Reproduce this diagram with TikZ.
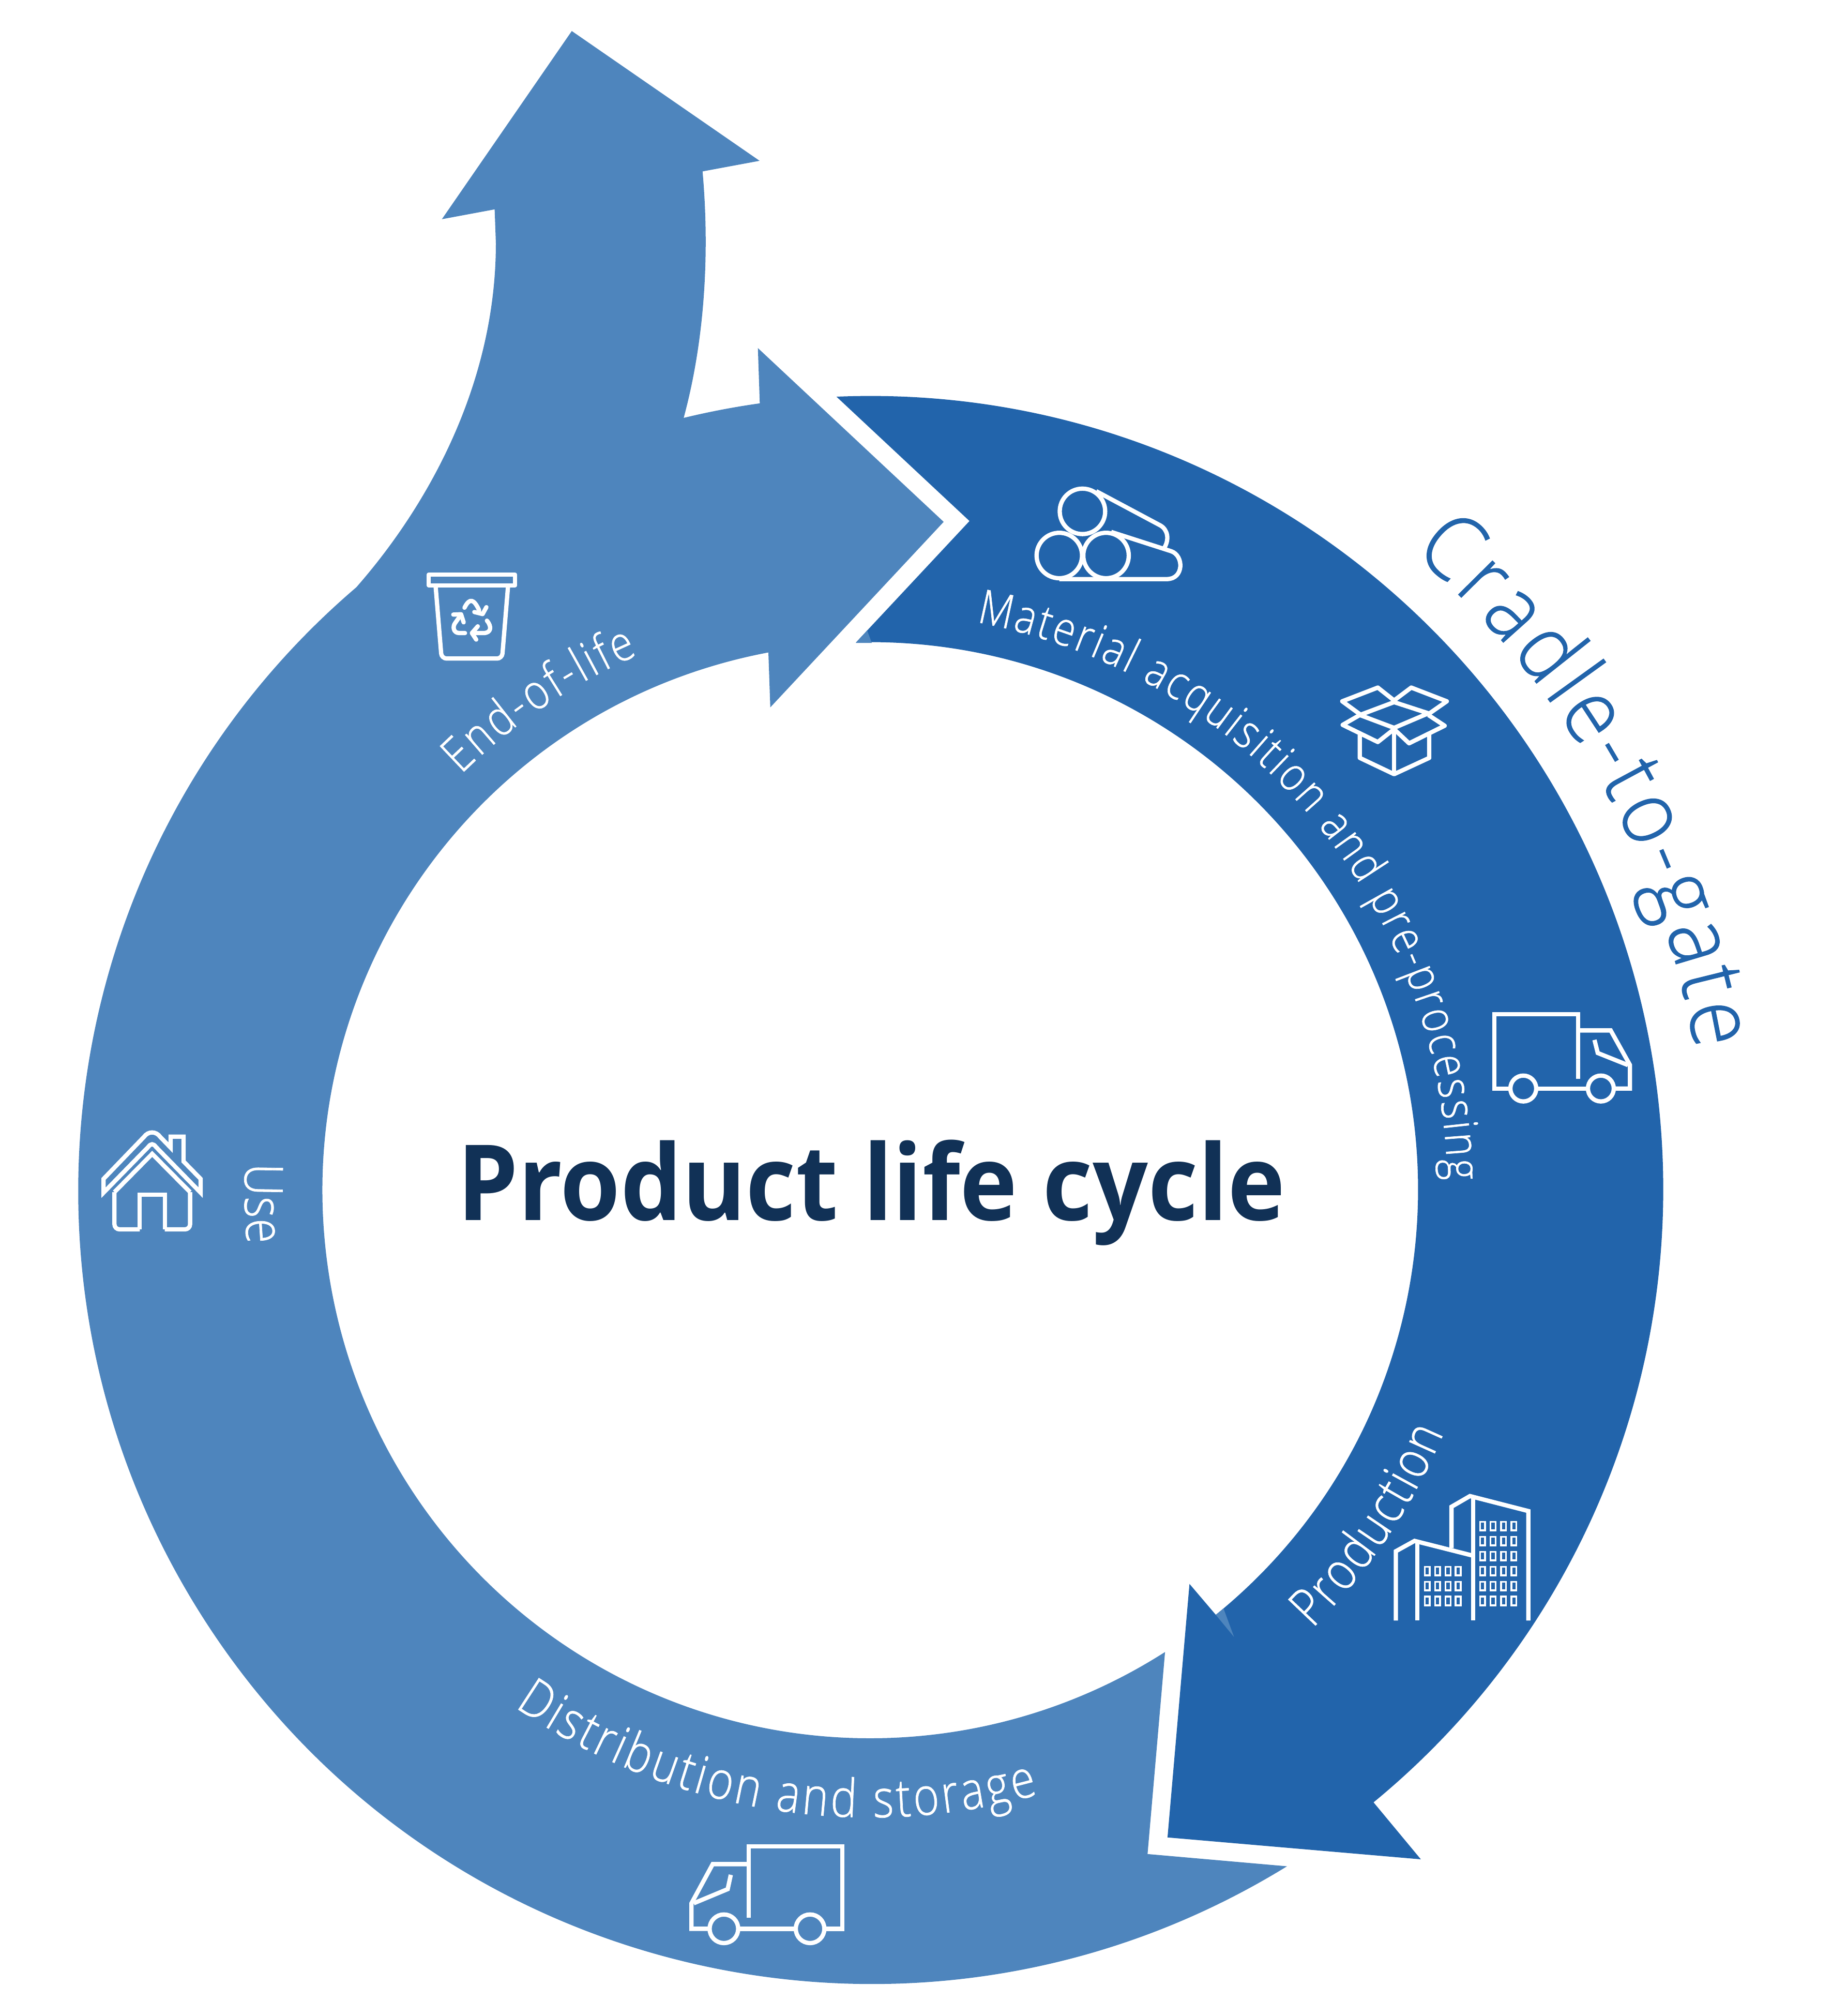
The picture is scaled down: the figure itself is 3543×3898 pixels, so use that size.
\documentclass[tikz,border=0pt]{standalone}
\usepackage{fontspec}
\usetikzlibrary{decorations.text}
\setmainfont{Noto Sans}
\newfontfamily\titlefont[FakeStretch=0.925]{Open Sans}
\newfontfamily\curvedfont[FakeStretch=0.84,FakeBold=0.7]{Open Sans Light}
\newfontfamily\cradlefont[FakeStretch=0.9,FakeBold=0.8]{Open Sans Light}
\definecolor{darkblue}{HTML}{2264AB}
\definecolor{lightblue}{HTML}{4E85BD}
\definecolor{navy}{HTML}{113156}
\tikzset{
  iconline/.style={draw=white,line width=2.36pt,line join=miter,fill=none},
  thinline/.style={draw=white,line width=1.05pt,fill=none},
  recycleline/.style={draw=white,line width=2.36pt,line cap=round,line join=round,fill=none},
}
\begin{document}
\begin{tikzpicture}[x=0.01cm,y=-0.01cm]
\useasboundingbox (0,0) rectangle (3543,3898);
\coordinate (C) at (1683,2300);

% light arrow
\fill[lightblue] (2489,3608.5) arc[start angle=58.4,end angle=229.5,radius=1534]
  .. controls (830,975) and (959,740) .. (959,470) -- (956.6,404.8)
  -- (854.6,423.8) -- (1105.8,60) -- (1469,310.9) -- (1358.7,331.4)
  .. controls (1372,480) and (1365,650) .. (1322.2,808)
  arc[start angle=-103.6,end angle=-98,radius=1534]
  -- (1465.7,673) -- (1825,1009) -- (1489.7,1367.7) -- (1486,1261.5)
  arc[start angle=-100.7,end angle=-302.6,radius=1059]
  -- (2219.3,3584.8) -- cycle;

% dark arrow
\fill[darkblue] (1617.7,767) arc[start angle=-92.43,end angle=50.6,radius=1534]
  -- (2747.8,3595) -- (2257.9,3552.7) -- (2300.4,3062.5) -- (2351.3,3122.3)
  arc[start angle=50.9,end angle=-91.5,radius=1059]
  -- (1875,1007.4) -- cycle;
\fill[lightblue] (1655,1243) -- (1677,1219) -- (1686,1243) -- cycle;
\fill[lightblue] (2351.3,3122.3) -- (2366.2,3110) -- (2386.5,3165) -- cycle;

% curved labels
\path[decorate,decoration={text along path,text align={fit to path},text={|\curvedfont\fontsize{26}{30}\selectfont\color{white}|Material acquisition and pre-processing}}]
  (C) ++(-79.4:1116) arc[start angle=-79.4,end angle=-1,radius=1116];
\path[decorate,decoration={text along path,text align={fit to path},text={|\curvedfont\fontsize{29}{32}\selectfont\color{white}|Production}}]
  (C) ++(44.8:1205) arc[start angle=44.8,end angle=23,radius=1205];
\path[decorate,decoration={text along path,text align={fit to path},text={|\curvedfont\fontsize{29}{32}\selectfont\color{white}|Distribution and storage}}]
  (C) ++(124.5:1214) arc[start angle=124.5,end angle=74.5,radius=1214];
\path[decorate,decoration={text along path,text align={fit to path},text={|\curvedfont\fontsize{29.3}{32}\selectfont\color{white}|Use}}]
  (C) ++(182.4:1210) arc[start angle=182.4,end angle=175,radius=1210];
\path[decorate,decoration={text along path,text align={fit to path},text={|\curvedfont\fontsize{27}{30}\selectfont\color{white}|End-of-life}}]
  (C) ++(-134.6:1127) arc[start angle=-134.6,end angle=-113.5,radius=1127];
\path[decorate,decoration={text along path,text align={fit to path},text={|\cradlefont\fontsize{49.5}{55}\selectfont\color{darkblue}|Cradle-to-gate}}]
  (C) ++(-49.6:1618) arc[start angle=-49.6,end angle=-9.6,radius=1618];

% title
\node[text=navy,font=\titlefont\bfseries\fontsize{57.8}{60}\selectfont,anchor=base] (title) at (1685,2359) {Product life cycle};

% logs
\begin{scope}[shift={(1950,900)},scale=0.829]
  \draw[iconline] (173,107) circle[radius=53];
  \draw[iconline] (119,210) circle[radius=53];
  \draw[iconline] (228,210) circle[radius=53];
  \draw[iconline,line join=round] (205,60) -- (355,140) .. controls (372,150) and (376,172) .. (364,192);
  \draw[iconline,line join=round] (240,155) -- (380,200) .. controls (410,210) and (410,265) .. (370,265) -- (119,265);
\end{scope}

% box
\begin{scope}[shift={(1950,900)},scale=0.829]
  \draw[iconline,line join=round] (820,580) -- (779,550) -- (862,518) -- (900,548) -- (940,518) -- (1023,550) -- (980,580);
  \draw[iconline,line join=round] (900,552) -- (980,578) -- (900,612) -- (820,582) -- cycle;
  \draw[iconline,line join=round] (820,582) -- (780,605) -- (862,645) -- (900,615) -- (935,648) -- (1018,607) -- (980,582);
  \draw[iconline,line join=round] (820,628) -- (820,682) -- (900,720) -- (982,682) -- (982,628);
  \draw[iconline] (900,615) -- (900,720);
\end{scope}

% truck right
\begin{scope}[shift={(2850,1920)},scale=0.3333]
  \draw[iconline] (607,498) -- (607,122) -- (119,122) -- (119,554) -- (205,554);
  \draw[iconline] (372,554) -- (655,554);
  \draw[iconline] (822,554) -- (907,554) -- (907,418) -- (795,217) -- (607,217);
  \draw[iconline] (288,554) circle[radius=75];
  \draw[iconline] (738,554) circle[radius=75];
  \draw[iconline] (701,272) -- (720,348) -- (895,418);
\end{scope}

% truck bottom
\begin{scope}[shift={(1250,3500)},scale=0.3333]
  \draw[iconline] (595,625) -- (595,209) -- (1138,209) -- (1138,688) -- (1043,688);
  \draw[iconline] (857,688) -- (543,688);
  \draw[iconline] (357,688) -- (262,688) -- (262,540) -- (385,313) -- (595,313);
  \draw[iconline] (450,688) circle[radius=83];
  \draw[iconline] (950,688) circle[radius=83];
  \draw[iconline] (490,375) -- (472,458) -- (275,540);
\end{scope}

% building
\begin{scope}[shift={(2400,2800)},xscale=0.4464,yscale=0.3333]
  \draw[iconline] (912,580) -- (912,340) -- (992,278) -- (1245,365) -- (1245,1000);
  \draw[iconline] (1005,285) -- (1005,1000);
  \draw[iconline] (671,1000) -- (671,598) -- (752,538) -- (1000,622);
  \draw[iconline] (764,550) -- (764,1000);
  \foreach \wy in {452,539,626,713,800,887}
    \foreach \wx in {1047,1092,1137,1182}
      \draw[thinline] (\wx-11,\wy-25) rectangle (\wx+11,\wy+25);
  \foreach \wy in {713,800,887}
    \foreach \wx in {807,852,897,941}
      \draw[thinline] (\wx-11,\wy-25) rectangle (\wx+11,\wy+25);
\end{scope}

% house
\begin{scope}[shift={(150,2150)},scale=0.3333]
  \draw[iconline] (151,468) -- (151,388) -- (385,145) .. controls (410,110) and (455,110) .. (480,145)
    -- (540,207) -- (540,143) -- (615,143) -- (615,287) -- (714,388) -- (714,468)
    -- (455,203) .. controls (440,182) and (425,182) .. (410,203) -- cycle;
  \draw[iconline,rounded corners=2.8pt] (361,681) -- (214,681) -- (214,465);
  \draw[iconline] (214,465) -- (433,243) -- (653,465);
  \draw[iconline,rounded corners=2.8pt] (653,465) -- (653,681) -- (506,681);
  \draw[iconline] (506,681) -- (506,480) -- (361,480) -- (361,681);
\end{scope}

% bin
\begin{scope}[shift={(780,1080)},scale=0.3333]
  \draw[iconline,line join=round] (148,93) rectangle (648,155);
  \draw[iconline,rounded corners=2.8pt] (187,155) -- (222,580) -- (573,580) -- (608,155);
  \draw[recycleline] (355,285) .. controls (385,225) and (410,235) .. (440,300);
  \draw[recycleline] (412,310) -- (460,322) -- (482,282);
  \draw[recycleline] (358,432) -- (325,432) .. controls (290,432) and (285,395) .. (300,375) -- (335,325);
  \draw[recycleline] (290,325) -- (335,323) -- (350,370);
  \draw[recycleline] (485,360) .. controls (515,395) and (510,432) .. (465,432) -- (400,432);
  \draw[recycleline] (432,393) -- (398,432) -- (423,470);
\end{scope}
\end{tikzpicture}
\end{document}
